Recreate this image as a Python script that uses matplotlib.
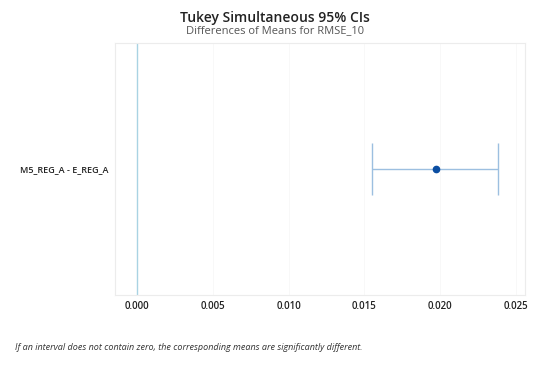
import matplotlib.pyplot as plt

# data
labels = ['M5_REG_A - E_REG_A']
means = [0.0197]
lower = [0.0155]
upper = [0.0238]
xticks = [0.000, 0.005, 0.010, 0.015, 0.020, 0.025]

plt.rcParams['font.family'] = ['Open Sans', 'DejaVu Sans']

fig = plt.figure(figsize=(5.5, 3.7), dpi=100)
ax = fig.add_axes([115/550, 1-295/370, 410/550, 252/370])

ypos = list(range(len(labels)))
for y, m, lo, hi in zip(ypos, means, lower, upper):
    ax.errorbar([m], [y], xerr=[[m-lo], [hi-m]], fmt='none',
                ecolor='#9cbfe0', elinewidth=1.0, capsize=19, capthick=1.0)
    ax.plot([m], [y], 'o', color='#0b4ea2', markersize=4.5)

ax.axvline(0, color='#a9d3e3', lw=1.0, zorder=0)
for t in xticks[1:]:
    ax.axvline(t, color='#f7f7f7', lw=0.6, zorder=0)

ax.set_xlim(-0.00145, 0.0256)
ax.set_ylim(-1, 1)
ax.set_xticks(xticks)
ax.set_xticklabels(['%.3f' % t for t in xticks], fontsize=7, fontweight='semibold',
                   color='#222222')
ax.set_yticks(ypos)
ax.set_yticklabels(labels, fontsize=6.5, fontweight='semibold', color='#222222')
ax.tick_params(length=0, pad=4)
ax.tick_params(axis='y', pad=5)
for s in ax.spines.values():
    s.set_color('#ececec')
    s.set_linewidth(0.8)

fig.text(0.5, 1-18/370, 'Tukey Simultaneous 95% CIs', ha='center', va='center',
         fontsize=10, fontweight='semibold', color='#222222')
fig.text(0.5, 1-31/370, 'Differences of Means for RMSE_10', ha='center', va='center',
         fontsize=8, color='#555555')
fig.text(15/550, 1-348/370,
         'If an interval does not contain zero, the corresponding means are significantly different.',
         ha='left', va='center', fontsize=6.5, style='italic', color='#333333')

fig.savefig('out.png', dpi=100)
